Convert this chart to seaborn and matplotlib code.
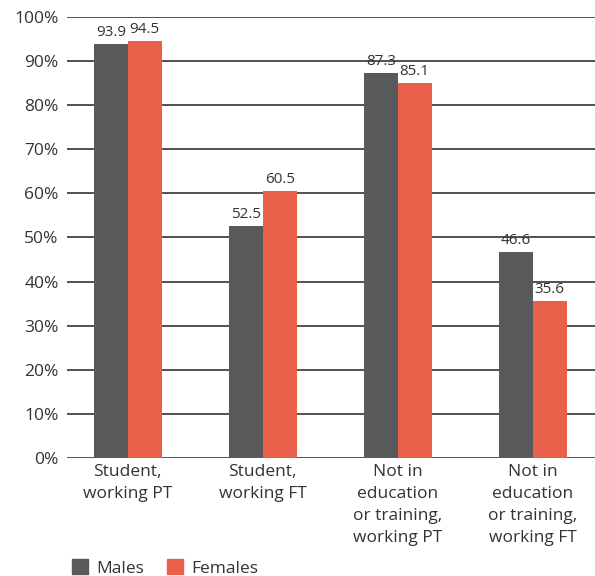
import matplotlib.pyplot as plt
import pandas as pd
import seaborn as sns

categories = ['Student,\nworking PT', 'Student,\nworking FT',
              'Not in\neducation\nor training,\nworking PT',
              'Not in\neducation\nor training,\nworking FT']
males = [93.9, 52.5, 87.3, 46.6]
females = [94.5, 60.5, 85.1, 35.6]
series = ['Males', 'Females']
colors = ['#58595b', '#e8604a']

df = pd.DataFrame({
    'category': categories * 2,
    'sex': ['Males'] * 4 + ['Females'] * 4,
    'value': males + females,
})

sns.set_style('white')
plt.rcParams['font.family'] = ['Open Sans', 'DejaVu Sans']

fig = plt.figure(figsize=(5.95, 5.76), dpi=100)
ax = fig.add_axes([0.1126, 0.2049, 0.8874, 0.7656])

sns.barplot(data=df, x='category', y='value', hue='sex', order=categories,
            hue_order=series, palette=colors, width=0.5, saturation=1,
            linewidth=0, ax=ax, zorder=3, legend=False)

for cont in ax.containers:
    ax.bar_label(cont, fmt='%.1f', padding=3, fontsize=11, color='#333333')

ax.set_ylim(0, 100)
ax.set_xlim(-0.45, 3.46)
ax.set_yticks(range(0, 101, 10))
ax.set_yticklabels([f'{v}%' for v in range(0, 101, 10)], fontsize=12.5, color='#333333')
ax.set_xticklabels(categories, fontsize=12.5, color='#333333', linespacing=1.5)
ax.tick_params(axis='both', length=0)
ax.tick_params(axis='y', pad=6)
ax.tick_params(axis='x', pad=4)
ax.grid(axis='y', color='#333333', linewidth=1.2, zorder=0)
ax.set_xlabel('')
ax.set_ylabel('')
for s in ax.spines.values():
    s.set_visible(False)

handles = [plt.Rectangle((0, 0), 1, 1, color=c) for c in colors]
fig.legend(handles, series, loc='lower left', bbox_to_anchor=(0.095, -0.028),
           ncol=2, frameon=False, fontsize=12.5, handlelength=0.9, handleheight=0.9,
           columnspacing=1.3, handletextpad=0.5, labelcolor='#333333')

fig.savefig('out.png', dpi=100)
